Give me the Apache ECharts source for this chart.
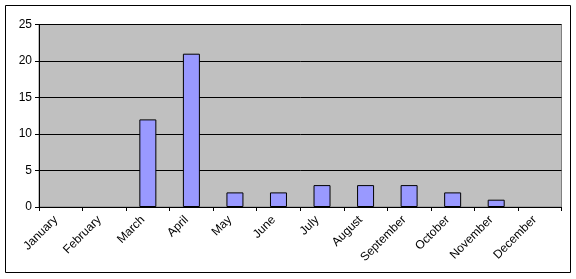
<!DOCTYPE html>
<html>
<head>
<meta charset="utf-8">
<script src="https://cdn.jsdelivr.net/npm/echarts@6/dist/echarts.min.js"></script>
<style>
html,body{margin:0;padding:0;background:#fff;}
#c{width:576px;height:279px;}
</style>
</head>
<body>
<div id="c"></div>
<script>
const months = ['January','February','March','April','May','June','July','August','September','October','November','December'];
const counts = [0,0,12,21,2,2,3,3,3,2,1,0];
const yTicks = {min:0, max:25, interval:5};

const chart = echarts.init(document.getElementById('c'), null, {renderer:'canvas'});
chart.setOption({
  animation:false,
  backgroundColor:'#ffffff',
  graphic:[{type:'rect', shape:{x:5.5,y:5.5,width:565,height:267}, style:{fill:'none', stroke:'#000', lineWidth:1}, z:-10}],
  grid:{left:39, top:24.5, right:14.5, bottom:72, show:true, backgroundColor:'#C0C0C0', borderColor:'#808080', borderWidth:1},
  xAxis:{
    type:'category', data:months,
    axisLine:{show:true, lineStyle:{color:'#000', width:1}},
    axisTick:{show:true, length:4, lineStyle:{color:'#000'}},
    axisLabel:{interval:0, rotate:45, fontFamily:'Liberation Sans, Arial, sans-serif', fontSize:12, color:'#000', margin:6, padding:[0,7,0,0]}
  },
  yAxis:{
    type:'value', min:yTicks.min, max:yTicks.max, interval:yTicks.interval,
    axisLine:{show:true, lineStyle:{color:'#000', width:1}},
    axisTick:{show:true, length:4, lineStyle:{color:'#000'}},
    axisLabel:{fontFamily:'Liberation Sans, Arial, sans-serif', fontSize:12, color:'#000', margin:7},
    splitLine:{show:true, lineStyle:{color:'#000', width:1}}
  },
  series:[{
    type:'bar', barWidth:17,
    data:counts.map(v => v === 0 ? {value:v, itemStyle:{borderWidth:0, opacity:0}} : v),
    itemStyle:{color:'#9999FF', borderColor:'#000', borderWidth:1}
  }]
});
</script>
</body>
</html>
